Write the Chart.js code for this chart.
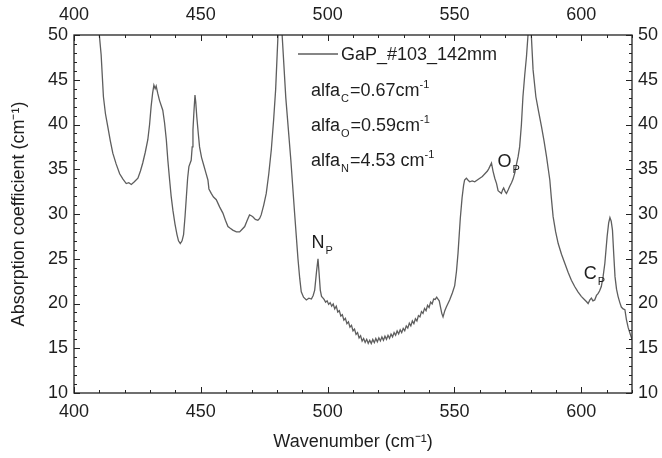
<!DOCTYPE html>
<html><head><meta charset="utf-8">
<script src="https://cdn.jsdelivr.net/npm/chart.js@4/dist/chart.umd.min.js"></script>
<style>html,body{margin:0;padding:0;background:#fff}</style>
</head><body>
<canvas id="c" width="662" height="458"></canvas>
<script>
// ---- data ----
const wavenumber = [
408.8,409.5,410.7,411.6,412.4,413.3,414.3,415.3,416.6,418,419.3,420.6,421.6,422.6,423.8,425.2,426.2,427.1,428.1,429.1,
429.8,430.4,431.0,431.5,432.0,432.4,433.0,433.7,435,435.7,436.4,437.0,437.7,438.3,439,439.8,440.6,441.2,441.9,442.6,
443.2,443.8,444.3,444.8,445.3,446.2,446.6,446.9,447.3,447.7,448.0,448.4,449.0,449.5,450.3,451.1,452.0,452.8,453.2,454.1,
455.0,456.1,457.4,458.7,459.7,460.7,461.6,462.6,464.0,465.3,466.3,467.3,468.3,469.2,469.9,470.5,471.5,472.5,473.2,473.8,
474.8,475.8,476.8,477.8,478.7,479.5,480.4,481.2,482.1,483.5,485.5,487,488.3,489.0,489.6,490.5,491.6,492.6,493.6,494.3,
494.9,495.6,496.2,496.6,497.1,497.6,498.2,
498.6,499.2,499.8,500.4,501.0,501.6,502.2,502.8,503.4,504.0,504.6,505.2,505.8,506.4,507.0,507.6,508.2,508.8,509.4,510.0,
510.6,511.2,511.8,512.4,513.0,513.6,514.2,514.8,515.4,516.0,516.6,517.2,517.8,518.4,519.0,519.6,520.2,520.8,521.4,522.0,
522.6,523.2,523.8,524.4,525.0,525.6,526.2,526.8,527.4,528.0,528.6,529.2,529.8,530.4,531.0,531.6,532.2,532.8,533.4,534.0,
534.6,535.2,535.8,536.4,537.0,537.6,538.2,538.8,539.4,540.0,540.6,541.2,541.8,542.4,
543.0,543.5,544.0,544.5,545.0,545.5,546.2,546.8,548.1,549.2,550.1,550.8,551.4,552.3,553.0,553.6,554.0,554.7,555.3,556,
557,558,559,560,561,562,563,563.6,564.6,565.2,565.9,566.6,567.2,567.6,568.5,569.0,569.4,570.0,570.5,571.2,
571.8,572.5,573.1,573.8,574.4,575.1,575.7,576.4,577.0,577.7,578.4,579.0,579.6,580.3,581.0,582.1,583.2,584.3,585.3,586.3,
587.0,587.6,588.2,588.9,589.9,590.9,592.2,593.5,594.8,596.1,597.4,598.7,600.0,601.4,602.1,602.7,603.4,604.0,604.6,605.3,
606.0,606.6,607.2,607.9,608.6,609.3,610.2,610.8,611.3,611.8,612.3,612.8,613.3,613.9,614.5,615.2,615.8,616.5,617.2,617.8,
618.5,619.3,620.0
];
const absorption = [
56,51.5,47.8,43.1,41.2,39.8,38.2,36.8,35.6,34.5,33.9,33.4,33.5,33.3,33.6,34.0,34.8,35.7,36.9,38.3,
40.0,42.0,43.5,44.4,44.0,44.3,43.5,42.7,41.6,40.2,38.3,36.0,33.8,32.0,30.4,28.9,27.7,27.0,26.7,27.0,
27.7,29.8,31.9,34.0,35.3,36.0,37.5,39.4,41.5,43.3,42.5,40.9,39.0,37.5,36.3,35.5,34.6,33.8,32.8,32.3,
31.9,31.6,30.8,30.1,29.3,28.6,28.4,28.2,28.0,28.0,28.3,28.6,29.3,29.9,29.8,29.7,29.4,29.3,29.5,29.9,
31.0,32.3,34.5,37.2,40.5,43.9,49.8,56,49.8,43,36,30,25,22.8,21.3,20.7,20.4,20.6,20.5,20.9,
21.5,23.5,25.0,23.5,21.5,20.8,20.6,
20.45,20.15,20.3,19.9,20.1,19.7,19.95,19.4,19.7,19.05,19.2,18.6,18.75,18.15,18.35,17.75,17.95,17.35,17.55,16.95,
17.15,16.55,16.75,16.15,16.4,15.8,16.1,15.65,16.0,15.55,15.9,15.52,15.98,15.63,16.1,15.73,16.17,15.82,16.27,15.9,
16.35,16.0,16.45,16.1,16.58,16.27,16.75,16.45,16.93,16.6,17.07,16.75,17.22,16.95,17.5,17.25,17.8,17.5,18.05,17.75,
18.3,18.05,18.65,18.5,19.1,18.9,19.45,19.2,19.8,19.55,20.15,19.95,20.5,20.45,
20.7,20.5,20.3,19.6,18.9,18.5,19.2,19.6,20.4,21.2,22.0,23.6,25.6,29.5,31.8,33.2,33.8,34.0,33.8,33.6,
33.7,33.6,33.8,34.0,34.2,34.5,34.8,35.1,35.7,34.8,34.0,33.4,32.6,32.5,32.3,32.7,32.9,32.5,32.3,32.7,
33.1,33.5,33.9,34.6,35.5,36.4,37.5,40.0,43.1,45.5,47.6,50.0,56,50.0,46.1,43.1,41.4,39.8,38.2,36.4,
35.0,33.8,31.8,29.7,28.0,26.7,25.5,24.5,23.5,22.6,21.9,21.3,20.8,20.4,20.2,20.0,20.4,20.6,20.3,20.4,
20.9,21.1,21.4,21.9,23.0,24.5,27.5,29.0,29.6,29.2,28.2,25.5,23.0,21.6,20.8,20.1,19.6,19.4,19.3,18.2,
17.3,16.6,16.0
];
const xTickValues = [400,450,500,550,600];
const yTickValues = [10,15,20,25,30,35,40,45,50];
const seriesLabel = 'GaP_#103_142mm';
const alfaNames = ['C','O','N'];
const alfaValues = ['0.67cm','0.59cm','4.53 cm'];
const peakNames = ['N','O','C'];
const peakSubs = ['P','P','P'];

// ---- styling / layout ----
const FONT = '"Liberation Sans", Arial, sans-serif';
const FS = 18;
const TXT = '#1e1e1e';
const LINE = '#5e5e5e';
const peakPos = [[493.6,26.9],[567.0,35.9],[601.0,23.4]];

const points = wavenumber.map((x,i)=>({x, y: absorption[i]}));

function drawRich(ctx, x, y, parts, size){
  let cx = x;
  for (const [t,k] of parts){
    if (k==='n'){ ctx.font = size+'px '+FONT; ctx.fillText(t,cx,y); }
    else if (k==='sub'){ ctx.font = Math.round(size*0.62)+'px '+FONT; ctx.fillText(t,cx+1,y+Math.round(size*0.35)); }
    else { ctx.font = Math.round(size*0.62)+'px '+FONT; ctx.fillText(t,cx,y-Math.round(size*0.45)); }
    cx += ctx.measureText(t).width + (k==='sub'?2:0);
  }
}

const framePlugin = {
  id:'frame',
  afterDatasetsDraw(chart){
    const ctx = chart.ctx, a = chart.chartArea;
    const xs = chart.scales.x, ys = chart.scales.y;
    ctx.save();
    ctx.strokeStyle = '#222'; ctx.lineWidth = 1.3;
    ctx.strokeRect(a.left, a.top, a.right-a.left, a.bottom-a.top);
    ctx.lineWidth = 1;
    ctx.beginPath();
    for (let v=400; v<=620; v+=10){
      const px = Math.round(xs.getPixelForValue(v))+0.5;
      const len = v%50===0 ? 6 : 3;
      ctx.moveTo(px,a.bottom); ctx.lineTo(px,a.bottom-len);
      ctx.moveTo(px,a.top); ctx.lineTo(px,a.top+len);
    }
    for (let v=10; v<=50; v+=1){
      const py = Math.round(ys.getPixelForValue(v))+0.5;
      const len = v%5===0 ? 6 : 3;
      ctx.moveTo(a.left,py); ctx.lineTo(a.left+len,py);
      ctx.moveTo(a.right,py); ctx.lineTo(a.right-len,py);
    }
    ctx.stroke();

    // legend
    ctx.strokeStyle = LINE; ctx.lineWidth = 1.5;
    ctx.beginPath(); ctx.moveTo(298,54); ctx.lineTo(338,54); ctx.stroke();
    ctx.fillStyle = TXT; ctx.textBaseline = 'alphabetic'; ctx.textAlign='left';
    ctx.font = FS+'px '+FONT;
    ctx.fillText(chart.data.datasets[0].label, 341, 60);
    const ys0 = [96,131,166];
    alfaNames.forEach((n,i)=>{
      drawRich(ctx, 311, ys0[i], [['alfa','n'],[n,'sub'],['='+alfaValues[i],'n'],['-1','sup']], FS);
    });
    peakNames.forEach((n,i)=>{
      const px = xs.getPixelForValue(peakPos[i][0]);
      const py = ys.getPixelForValue(peakPos[i][1]) + 6;
      drawRich(ctx, px, py, [[n,'n'],[peakSubs[i],'sub']], FS);
    });
    ctx.restore();
  }
};

const tickFont = {family: FONT, size: FS};
new Chart(document.getElementById('c'), {
  type:'line',
  data:{ datasets:[{ label: seriesLabel, data: points, borderColor: LINE, borderWidth: 1.3,
    pointRadius: 0, tension: 0, fill:false }]},
  options:{
    responsive:false, animation:false, devicePixelRatio:1,
    layout:{padding:0},
    plugins:{legend:{display:false}, tooltip:{enabled:false}},
    scales:{
      x:{type:'linear', position:'bottom', min:400, max:620,
        afterFit(s){ s.height = 65; },
        afterBuildTicks(s){ s.ticks = xTickValues.map(v=>({value:v})); },
        grid:{display:false, drawTicks:false}, border:{display:false},
        ticks:{font:tickFont, color:TXT, padding:8, maxRotation:0, autoSkip:false},
        title:{display:true, text:'Wavenumber (cm⁻¹)', font:tickFont, color:TXT, padding:{top:0,bottom:5}}},
      x2:{type:'linear', position:'top', min:400, max:620,
        afterFit(s){ s.height = 35; },
        afterBuildTicks(s){ s.ticks = xTickValues.map(v=>({value:v})); },
        grid:{display:false, drawTicks:false}, border:{display:false},
        ticks:{font:tickFont, color:TXT, padding:9, maxRotation:0, autoSkip:false}},
      y:{type:'linear', position:'left', min:10, max:50,
        afterFit(s){ s.width = 74; },
        afterBuildTicks(s){ s.ticks = yTickValues.map(v=>({value:v})); },
        grid:{display:false, drawTicks:false}, border:{display:false},
        ticks:{font:tickFont, color:TXT, padding:6, autoSkip:false},
        title:{display:true, text:'Absorption coefficient (cm⁻¹)', font:tickFont, color:TXT, padding:{top:8,bottom:0}}},
      y2:{type:'linear', position:'right', min:10, max:50,
        afterFit(s){ s.width = 30; },
        afterBuildTicks(s){ s.ticks = yTickValues.map(v=>({value:v})); },
        grid:{display:false, drawTicks:false}, border:{display:false},
        ticks:{font:tickFont, color:TXT, padding:6, autoSkip:false}}
    }
  },
  plugins:[framePlugin]
});
</script>
</body></html>
